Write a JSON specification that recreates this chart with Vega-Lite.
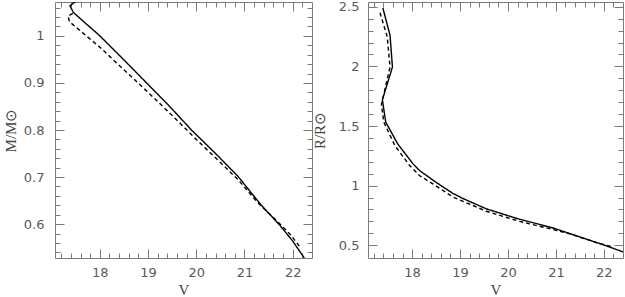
{
  "$schema": "https://vega.github.io/schema/vega-lite/v6.json",
  "padding": {"left": 2, "top": 0, "right": 0, "bottom": 0},
  "background": "white",
  "bounds": "flush",
  "spacing": 56,
  "config": {
    "view": {"stroke": "#7a7a7a", "strokeWidth": 1},
    "axis": {
      "grid": false,
      "domain": false,
      "tickColor": "#7a7a7a",
      "tickWidth": 1,
      "labelColor": "#5a5a5a",
      "titleColor": "#444444",
      "labelFont": "DejaVu Sans",
      "labelFontSize": 13,
      "titleFont": "Liberation Serif",
      "titleFontSize": 15,
      "titleFontWeight": "normal"
    }
  },
  "datasets": {
    "mass": [
      {"s": "solid", "i": 0, "V": 17.52, "M": 1.075},
      {"s": "solid", "i": 1, "V": 17.38, "M": 1.064},
      {"s": "solid", "i": 2, "V": 17.45, "M": 1.050},
      {"s": "solid", "i": 3, "V": 17.70, "M": 1.027},
      {"s": "solid", "i": 4, "V": 17.97, "M": 1.003},
      {"s": "solid", "i": 5, "V": 18.47, "M": 0.952},
      {"s": "solid", "i": 6, "V": 18.97, "M": 0.900},
      {"s": "solid", "i": 7, "V": 19.44, "M": 0.851},
      {"s": "solid", "i": 8, "V": 19.90, "M": 0.800},
      {"s": "solid", "i": 9, "V": 20.40, "M": 0.750},
      {"s": "solid", "i": 10, "V": 20.86, "M": 0.702},
      {"s": "solid", "i": 11, "V": 21.35, "M": 0.640},
      {"s": "solid", "i": 12, "V": 21.73, "M": 0.598},
      {"s": "solid", "i": 13, "V": 22.00, "M": 0.564},
      {"s": "solid", "i": 14, "V": 22.24, "M": 0.528},
      {"s": "dashed", "i": 0, "V": 17.44, "M": 1.048},
      {"s": "dashed", "i": 1, "V": 17.34, "M": 1.042},
      {"s": "dashed", "i": 2, "V": 17.37, "M": 1.030},
      {"s": "dashed", "i": 3, "V": 17.50, "M": 1.019},
      {"s": "dashed", "i": 4, "V": 18.00, "M": 0.976},
      {"s": "dashed", "i": 5, "V": 18.50, "M": 0.928},
      {"s": "dashed", "i": 6, "V": 19.00, "M": 0.880},
      {"s": "dashed", "i": 7, "V": 19.50, "M": 0.831},
      {"s": "dashed", "i": 8, "V": 20.00, "M": 0.780},
      {"s": "dashed", "i": 9, "V": 20.50, "M": 0.731},
      {"s": "dashed", "i": 10, "V": 20.86, "M": 0.695},
      {"s": "dashed", "i": 11, "V": 21.30, "M": 0.643},
      {"s": "dashed", "i": 12, "V": 21.73, "M": 0.601},
      {"s": "dashed", "i": 13, "V": 21.95, "M": 0.578},
      {"s": "dashed", "i": 14, "V": 22.14, "M": 0.553}
    ],
    "radius": [
      {"s": "solid", "i": 0, "V": 17.39, "R": 2.49},
      {"s": "solid", "i": 1, "V": 17.54, "R": 2.26},
      {"s": "solid", "i": 2, "V": 17.59, "R": 1.995},
      {"s": "solid", "i": 3, "V": 17.38, "R": 1.72},
      {"s": "solid", "i": 4, "V": 17.45, "R": 1.532},
      {"s": "solid", "i": 5, "V": 17.70, "R": 1.35},
      {"s": "solid", "i": 6, "V": 18.02, "R": 1.182},
      {"s": "solid", "i": 7, "V": 18.16, "R": 1.125},
      {"s": "solid", "i": 8, "V": 18.51, "R": 1.025},
      {"s": "solid", "i": 9, "V": 18.85, "R": 0.935},
      {"s": "solid", "i": 10, "V": 19.06, "R": 0.892},
      {"s": "solid", "i": 11, "V": 19.55, "R": 0.805},
      {"s": "solid", "i": 12, "V": 20.24, "R": 0.718},
      {"s": "solid", "i": 13, "V": 20.94, "R": 0.645},
      {"s": "solid", "i": 14, "V": 21.29, "R": 0.598},
      {"s": "solid", "i": 15, "V": 21.98, "R": 0.505},
      {"s": "solid", "i": 16, "V": 22.43, "R": 0.44},
      {"s": "dashed", "i": 0, "V": 17.33, "R": 2.45},
      {"s": "dashed", "i": 1, "V": 17.48, "R": 2.25},
      {"s": "dashed", "i": 2, "V": 17.54, "R": 1.995},
      {"s": "dashed", "i": 3, "V": 17.36, "R": 1.68},
      {"s": "dashed", "i": 4, "V": 17.41, "R": 1.532},
      {"s": "dashed", "i": 5, "V": 17.64, "R": 1.336},
      {"s": "dashed", "i": 6, "V": 17.95, "R": 1.168},
      {"s": "dashed", "i": 7, "V": 18.16, "R": 1.083},
      {"s": "dashed", "i": 8, "V": 18.44, "R": 1.013},
      {"s": "dashed", "i": 9, "V": 18.85, "R": 0.905},
      {"s": "dashed", "i": 10, "V": 19.55, "R": 0.785},
      {"s": "dashed", "i": 11, "V": 20.24, "R": 0.700},
      {"s": "dashed", "i": 12, "V": 20.94, "R": 0.632},
      {"s": "dashed", "i": 13, "V": 21.29, "R": 0.595},
      {"s": "dashed", "i": 14, "V": 21.84, "R": 0.523},
      {"s": "dashed", "i": 15, "V": 22.15, "R": 0.490}
    ]
  },
  "hconcat": [
    {
      "width": 257,
      "height": 256,
      "data": {"name": "mass"},
      "layer": [
        {
          "mark": {"type": "line", "clip": true, "color": "black", "strokeWidth": 1.4},
          "encoding": {
            "x": {"field": "V", "type": "quantitative",
              "scale": {"domain": [17.07, 22.4], "nice": false, "zero": false},
              "axis": {"orient": "bottom", "values": [18, 19, 20, 21, 22], "tickSize": -9, "labelPadding": 17, "title": "V", "titlePadding": 3}},
            "y": {"field": "M", "type": "quantitative",
              "scale": {"domain": [0.528, 1.072], "nice": false, "zero": false},
              "axis": {"orient": "left", "values": [0.6, 0.7, 0.8, 0.9, 1], "format": "~g", "tickSize": -9, "labelPadding": 20, "title": "M/M⊙", "titlePadding": 5}},
            "detail": {"field": "s"},
            "strokeDash": {"field": "s", "type": "nominal", "scale": {"domain": ["solid", "dashed"], "range": [[1, 0], [4, 3]]}, "legend": null},
            "order": {"field": "i", "type": "quantitative"}
          }
        },
        {
          "mark": {"type": "line", "strokeOpacity": 0},
          "encoding": {
            "x": {"field": "V", "type": "quantitative",
              "axis": {"orient": "bottom", "values": [17.2, 17.4, 17.6, 17.8, 18.2, 18.4, 18.6, 18.8, 19.2, 19.4, 19.6, 19.8, 20.2, 20.4, 20.6, 20.8, 21.2, 21.4, 21.6, 21.8, 22.2], "tickSize": -5, "labels": false, "title": null}},
            "y": {"field": "M", "type": "quantitative",
              "axis": {"orient": "left", "values": [0.54, 0.56, 0.58, 0.62, 0.64, 0.66, 0.68, 0.72, 0.74, 0.76, 0.78, 0.82, 0.84, 0.86, 0.88, 0.92, 0.94, 0.96, 0.98, 1.02, 1.04, 1.06], "tickSize": -5, "labels": false, "title": null}}
          }
        },
        {
          "mark": {"type": "line", "strokeOpacity": 0},
          "encoding": {
            "x": {"field": "V", "type": "quantitative",
              "axis": {"orient": "top", "values": [18, 19, 20, 21, 22], "tickSize": -9, "labels": false, "title": null}},
            "y": {"field": "M", "type": "quantitative",
              "axis": {"orient": "right", "values": [0.6, 0.7, 0.8, 0.9, 1], "tickSize": -9, "labels": false, "title": null}}
          }
        },
        {
          "mark": {"type": "line", "strokeOpacity": 0},
          "encoding": {
            "x": {"field": "V", "type": "quantitative",
              "axis": {"orient": "top", "values": [17.2, 17.4, 17.6, 17.8, 18.2, 18.4, 18.6, 18.8, 19.2, 19.4, 19.6, 19.8, 20.2, 20.4, 20.6, 20.8, 21.2, 21.4, 21.6, 21.8, 22.2], "tickSize": -5, "labels": false, "title": null}},
            "y": {"field": "M", "type": "quantitative",
              "axis": {"orient": "right", "values": [0.54, 0.56, 0.58, 0.62, 0.64, 0.66, 0.68, 0.72, 0.74, 0.76, 0.78, 0.82, 0.84, 0.86, 0.88, 0.92, 0.94, 0.96, 0.98, 1.02, 1.04, 1.06], "tickSize": -5, "labels": false, "title": null}}
          }
        }
      ],
      "resolve": {"axis": {"x": "independent", "y": "independent"}}
    },
    {
      "width": 255,
      "height": 256,
      "data": {"name": "radius"},
      "layer": [
        {
          "mark": {"type": "line", "clip": true, "color": "black", "strokeWidth": 1.4},
          "encoding": {
            "x": {"field": "V", "type": "quantitative",
              "scale": {"domain": [17.08, 22.4], "nice": false, "zero": false},
              "axis": {"orient": "bottom", "values": [18, 19, 20, 21, 22], "tickSize": -9, "labelPadding": 17, "title": "V", "titlePadding": 3}},
            "y": {"field": "R", "type": "quantitative",
              "scale": {"domain": [0.393, 2.54], "nice": false, "zero": false},
              "axis": {"orient": "left", "values": [0.5, 1, 1.5, 2, 2.5], "format": "~g", "tickSize": -9, "labelPadding": 18, "title": "R/R⊙", "titlePadding": 11}},
            "detail": {"field": "s"},
            "strokeDash": {"field": "s", "type": "nominal", "scale": {"domain": ["solid", "dashed"], "range": [[1, 0], [4, 3]]}, "legend": null},
            "order": {"field": "i", "type": "quantitative"}
          }
        },
        {
          "mark": {"type": "line", "strokeOpacity": 0},
          "encoding": {
            "x": {"field": "V", "type": "quantitative",
              "axis": {"orient": "bottom", "values": [17.2, 17.4, 17.6, 17.8, 18.2, 18.4, 18.6, 18.8, 19.2, 19.4, 19.6, 19.8, 20.2, 20.4, 20.6, 20.8, 21.2, 21.4, 21.6, 21.8, 22.2], "tickSize": -5, "labels": false, "title": null}},
            "y": {"field": "R", "type": "quantitative",
              "axis": {"orient": "left", "values": [0.6, 0.7, 0.8, 0.9, 1.1, 1.2, 1.3, 1.4, 1.6, 1.7, 1.8, 1.9, 2.1, 2.2, 2.3, 2.4], "tickSize": -5, "labels": false, "title": null}}
          }
        },
        {
          "mark": {"type": "line", "strokeOpacity": 0},
          "encoding": {
            "x": {"field": "V", "type": "quantitative",
              "axis": {"orient": "top", "values": [18, 19, 20, 21, 22], "tickSize": -9, "labels": false, "title": null}},
            "y": {"field": "R", "type": "quantitative",
              "axis": {"orient": "right", "values": [0.5, 1, 1.5, 2, 2.5], "tickSize": -9, "labels": false, "title": null}}
          }
        },
        {
          "mark": {"type": "line", "strokeOpacity": 0},
          "encoding": {
            "x": {"field": "V", "type": "quantitative",
              "axis": {"orient": "top", "values": [17.2, 17.4, 17.6, 17.8, 18.2, 18.4, 18.6, 18.8, 19.2, 19.4, 19.6, 19.8, 20.2, 20.4, 20.6, 20.8, 21.2, 21.4, 21.6, 21.8, 22.2], "tickSize": -5, "labels": false, "title": null}},
            "y": {"field": "R", "type": "quantitative",
              "axis": {"orient": "right", "values": [0.6, 0.7, 0.8, 0.9, 1.1, 1.2, 1.3, 1.4, 1.6, 1.7, 1.8, 1.9, 2.1, 2.2, 2.3, 2.4], "tickSize": -5, "labels": false, "title": null}}
          }
        }
      ],
      "resolve": {"axis": {"x": "independent", "y": "independent"}}
    }
  ]
}
